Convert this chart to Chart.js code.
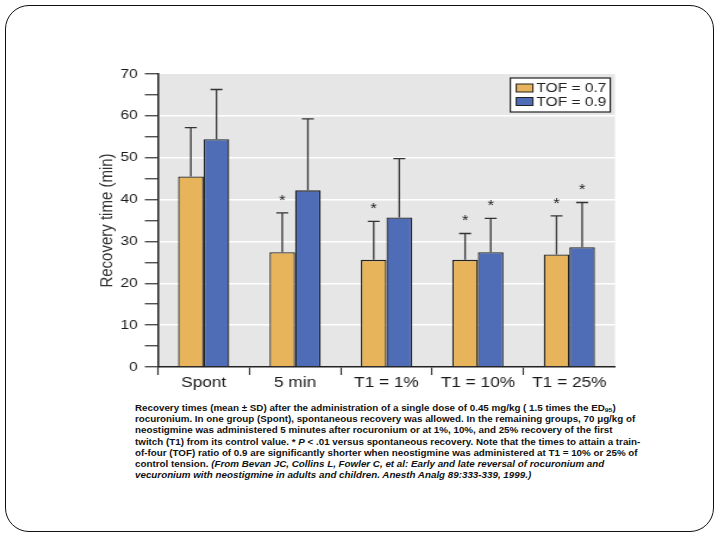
<!DOCTYPE html>
<html>
<head>
<meta charset="utf-8">
<script src="https://cdn.jsdelivr.net/npm/chart.js@4.4.0/dist/chart.umd.min.js"></script>
<style>
    html, body { margin: 0; padding: 0; background: #fff; }
    body { width: 720px; height: 540px; position: relative; overflow: hidden; }
    .frame {
        position: absolute; left: 5px; top: 5px; width: 707px; height: 525px;
        border: 1.5px solid #111; border-radius: 24px;
    }
    .stretch { position: absolute; transform: scaleX(1.19); transform-origin: left top; }
    #chartWrap { left: 80px; top: 55px; width: 462px; height: 345px; }
    #caption {
        left: 135px; top: 403px; width: 440px; transform: scaleX(1.14);
        font: bold 8.6px "Liberation Sans", Arial, sans-serif; line-height: 11.2px;
        color: #111; white-space: nowrap;
    }
    #caption sub { font-size: 6px; vertical-align: -1px; line-height: 0; }
</style>
</head>
<body>
<div class="frame"></div>
<div class="stretch" id="chartWrap"><canvas id="recoveryChart" width="462" height="345"></canvas></div>
<div class="stretch" id="caption">
Recovery times (mean ± SD) after the administration of a single dose of 0.45 mg/kg ( 1.5 times the ED<sub>95</sub>)<br>
rocuronium. In one group (Spont), spontaneous recovery was allowed. In the remaining groups, 70 μg/kg of<br>
neostigmine was administered 5 minutes after rocuronium or at 1%, 10%, and 25% recovery of the first<br>
twitch (T1) from its control value. * <i>P</i> &lt; .01 versus spontaneous recovery. Note that the times to attain a train-<br>
of-four (TOF) ratio of 0.9 are significantly shorter when neostigmine was administered at T1 = 10% or 25% of<br>
control tension. <i>(From Bevan JC, Collins L, Fowler C, et al: Early and late reversal of rocuronium and</i><br>
<i>vecuronium with neostigmine in adults and children. Anesth Analg 89:333-339, 1999.)</i>
</div>
<script>
        // values (minutes)
        const categories = ['Spont', '5 min', 'T1 = 1%', 'T1 = 10%', 'T1 = 25%'];
        const seriesLabels = ['TOF = 0.7', 'TOF = 0.9'];
        const tof07 = [45.5, 27.4, 25.6, 25.6, 26.9];
        const tof07Sd = [11.7, 9.4, 9.2, 6.3, 9.2];
        const tof09 = [54.4, 42.2, 35.7, 27.4, 28.6];
        const tof09Sd = [11.9, 17.1, 14.1, 8.1, 10.7];
        const tof07Star = [false, true, true, true, true];
        const tof09Star = [false, false, false, true, true];
        const yTicks = [0, 10, 20, 30, 40, 50, 60, 70];

        const colors = ['#E8B45B', '#4E6DB6'];
        const sds = [tof07Sd, tof09Sd];
        const stars = [tof07Star, tof09Star];

        // grey panel behind the bars
        const panelBg = {
            id: 'panelBg',
            beforeDraw(chart) {
                const { ctx, chartArea: a } = chart;
                ctx.save();
                ctx.fillStyle = '#E6E6E6';
                ctx.fillRect(a.left, a.top, a.right - a.left, a.bottom - a.top);
                ctx.restore();
            }
        };

        // SD whiskers (upward only) and significance stars
        const errorBars = {
            id: 'errorBars',
            afterDatasetsDraw(chart) {
                const ctx = chart.ctx;
                const y = chart.scales.y;
                chart.data.datasets.forEach((ds, di) => {
                    const meta = chart.getDatasetMeta(di);
                    meta.data.forEach((bar, i) => {
                        const topY = y.getPixelForValue(ds.data[i] + sds[di][i]);
                        ctx.save();
                        ctx.strokeStyle = '#333';
                        ctx.lineWidth = 1.3;
                        ctx.beginPath();
                        ctx.moveTo(bar.x, bar.y);
                        ctx.lineTo(bar.x, topY);
                        ctx.moveTo(bar.x - 5, topY);
                        ctx.lineTo(bar.x + 5, topY);
                        ctx.stroke();
                        if (stars[di][i]) {
                            ctx.fillStyle = '#222';
                            ctx.font = '14px "Liberation Sans", Arial, sans-serif';
                            ctx.textAlign = 'center';
                            ctx.textBaseline = 'middle';
                            ctx.fillText('*', bar.x, topY - 12);
                        }
                        ctx.restore();
                    });
                });
            }
        };

        // boxed legend in the top right of the panel
        const boxLegend = {
            id: 'boxLegend',
            afterDraw(chart) {
                const ctx = chart.ctx;
                const a = chart.chartArea;
                const x0 = a.right - 88, y0 = a.top + 4, w = 84, h = 34;
                ctx.save();
                ctx.fillStyle = '#fff';
                ctx.fillRect(x0, y0, w, h);
                ctx.strokeStyle = '#222';
                ctx.lineWidth = 1.2;
                ctx.strokeRect(x0, y0, w, h);
                ctx.font = '13px "Liberation Sans", Arial, sans-serif';
                ctx.textBaseline = 'middle';
                seriesLabels.forEach((lbl, i) => {
                    const cy = y0 + 10 + i * 13.5;
                    ctx.fillStyle = colors[i];
                    ctx.fillRect(x0 + 5, cy - 4, 14, 8);
                    ctx.strokeStyle = '#222';
                    ctx.lineWidth = 1;
                    ctx.strokeRect(x0 + 5, cy - 4, 14, 8);
                    ctx.fillStyle = '#222';
                    ctx.fillText(lbl, x0 + 22, cy + 0.5);
                });
                ctx.restore();
            }
        };

        new Chart(document.getElementById('recoveryChart'), {
            type: 'bar',
            data: {
                labels: categories,
                datasets: [tof07, tof09].map((vals, i) => ({
                    label: seriesLabels[i],
                    data: vals,
                    backgroundColor: colors[i],
                    borderColor: '#222',
                    borderWidth: 1.3,
                    categoryPercentage: 0.56,
                    barPercentage: 1.0
                }))
            },
            options: {
                responsive: false,
                animation: false,
                devicePixelRatio: 1,
                layout: { padding: { left: 12, top: 19, right: 12.4, bottom: 0 } },
                plugins: { legend: { display: false }, tooltip: { enabled: false } },
                scales: {
                    x: {
                        afterFit: s => { s.height = 33; },
                        grid: {
                            offset: true,
                            drawOnChartArea: false,
                            tickLength: 8,
                            tickColor: c => c.type === 'tick' ? '#333' : 'transparent',
                            tickWidth: 1.2
                        },
                        border: { color: '#222', width: 1.5 },
                        ticks: {
                            color: '#1a1a1a',
                            padding: -1,
                            font: { family: '"Liberation Sans", Arial, sans-serif', size: 14.5 }
                        }
                    },
                    y: {
                        min: 0,
                        max: 70,
                        afterFit: s => { s.width = 53.5; },
                        afterBuildTicks: s => {
                            // majors every 10 plus unlabeled minors in between
                            const t = [];
                            yTicks.forEach((v, i) => {
                                t.push({ value: v });
                                if (i < yTicks.length - 1) t.push({ value: (v + yTicks[i + 1]) / 2 });
                            });
                            s.ticks = t;
                        },
                        grid: {
                            color: c => (c.tick && yTicks.includes(c.tick.value) && c.tick.value > 0 && c.tick.value < 70) ? '#ffffff' : 'transparent',
                            lineWidth: 1.5,
                            tickLength: 11,
                            tickColor: '#333',
                            tickWidth: 1.2
                        },
                        border: { color: '#222', width: 1.5 },
                        ticks: {
                            color: '#1a1a1a',
                            padding: 6,
                            font: { family: '"Liberation Sans", Arial, sans-serif', size: 13 },
                            callback: v => yTicks.includes(v) ? v : ''
                        },
                        title: {
                            display: true,
                            text: 'Recovery time (min)',
                            color: '#333',
                            padding: { top: 2, bottom: 0 },
                            font: { family: '"Liberation Sans", Arial, sans-serif', size: 15 }
                        }
                    }
                }
            },
            plugins: [panelBg, errorBars, boxLegend]
        });
</script>
</body>
</html>
